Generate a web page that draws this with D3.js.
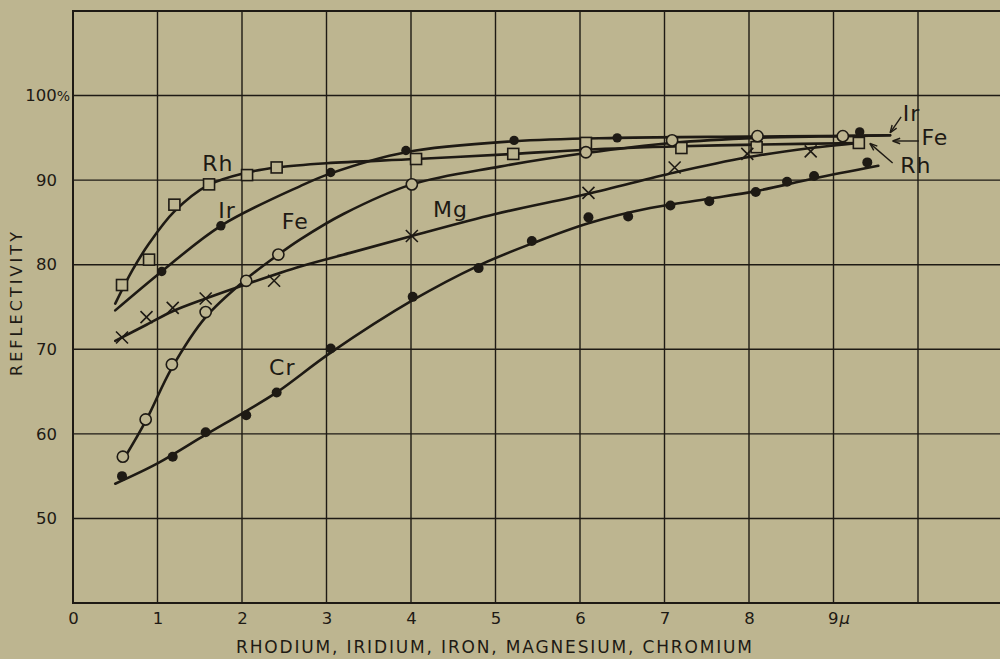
<!DOCTYPE html>
<html><head><meta charset="utf-8">
<script src="https://cdn.jsdelivr.net/npm/d3@7"></script>
<style>
html,body{margin:0;padding:0;background:#bdb590;}
svg{display:block;}
text{font-family:"DejaVu Sans",sans-serif;fill:#1e1a14;}
</style></head><body>
<svg id="chart" width="1000" height="659"></svg>
<script>
// ---------- data (x in μ, y in % reflectivity) ----------
const xTicks = [0,1,2,3,4,5,6,7,8,9];
const yTicks = [50,60,70,80,90,100];
const xGrid = [1,2,3,4,5,6,7,8,9,10];
const yGrid = [50,60,70,80,90,100];

// measured points
const rhPoints = [[0.58,77.6],[0.9,80.6],[1.2,87.1],[1.61,89.5],[2.06,90.6],[2.41,91.5],[4.06,92.5],[5.21,93.1],[6.07,94.4],[7.2,93.8],[8.09,93.9],[9.3,94.4]];
const irPoints = [[1.05,79.2],[1.75,84.6],[3.05,90.9],[3.94,93.5],[5.22,94.7],[6.44,95.0],[9.31,95.7]];
const fePoints = [[0.59,57.3],[0.86,61.7],[1.17,68.2],[1.57,74.4],[2.05,78.1],[2.43,81.2],[4.01,89.5],[6.07,93.3],[7.09,94.7],[8.1,95.2],[9.11,95.2]];
const mgPoints = [[0.58,71.4],[0.87,73.8],[1.18,74.9],[1.57,76.0],[2.38,78.1],[4.01,83.4],[6.1,88.5],[7.12,91.5],[7.98,93.1],[8.73,93.4]];
const crPoints = [[0.58,55.0],[1.18,57.3],[1.57,60.2],[2.05,62.2],[2.41,64.9],[3.05,70.1],[4.02,76.2],[4.8,79.6],[5.43,82.8],[6.1,85.6],[6.57,85.7],[7.07,87.0],[7.53,87.5],[8.08,88.6],[8.45,89.8],[8.77,90.5],[9.4,92.1]];

// smooth curves drawn through the points
const rhCurve = [[0.5,75.4],[0.7,79.3],[0.9,82.5],[1.2,86.3],[1.6,89.4],[2.06,90.9],[2.41,91.5],[3.0,92.0],[4.06,92.5],[5.21,93.1],[6.07,93.6],[7.2,94.0],[8.09,94.2],[9.3,94.4]];
const irCurve = [[0.5,74.6],[1.05,79.2],[1.75,84.6],[2.69,89.3],[3.05,90.8],[3.94,93.3],[5.22,94.6],[6.44,95.0],[8.0,95.15],[9.3,95.25],[9.67,95.3]];
const feCurve = [[0.6,57.0],[0.86,61.5],[1.17,67.8],[1.57,73.8],[2.05,78.3],[2.43,81.2],[2.69,83.0],[3.2,86.0],[4.01,89.5],[5.05,91.6],[6.07,93.2],[7.09,94.4],[8.1,95.0],[9.1,95.2],[9.67,95.3]];
const mgCurve = [[0.5,71.0],[0.87,72.9],[1.18,74.5],[1.57,76.0],[2.05,77.7],[2.69,79.8],[3.28,81.4],[4.01,83.4],[5.0,86.0],[6.1,88.4],[7.12,90.9],[7.98,92.7],[8.73,93.8],[9.3,94.4]];
const crCurve = [[0.5,54.1],[1.0,56.5],[1.57,59.9],[2.05,62.7],[2.41,64.9],[3.05,69.6],[4.02,75.8],[4.8,79.9],[5.43,82.5],[6.1,84.9],[6.83,86.7],[7.53,87.8],[8.08,88.7],[8.77,90.2],[9.53,91.7]];

// curve labels [text, x, y]
const curveLabels = [["Rh",1.53,91.1],["Ir",1.72,85.5],["Fe",2.47,84.2],["Mg",4.26,85.6],["Cr",2.32,67.0],
                     ["Ir",9.82,97.0],["Fe",10.04,94.2],["Rh",9.79,90.85]];
// pointer arrows [x1,y1,x2,y2] (arrowhead at x2,y2)
const pointers = [[9.80,97.47,9.67,95.6],[10.01,94.63,9.70,94.63],[9.70,92.03,9.43,94.35]];

const xTitle = "RHODIUM, IRIDIUM, IRON, MAGNESIUM, CHROMIUM";
const yTitle = "REFLECTIVITY";

// ---------- drawing ----------
const ink = "#1e1a14", bg = "#bdb590";
const svg = d3.select("#chart");
svg.append("rect").attr("width",1000).attr("height",659).attr("fill",bg);

const x = d3.scaleLinear().domain([0,11]).range([73, 1002.5]);
const y = d3.scaleLinear().domain([40,110]).range([603, 11]);

// grid
const g = svg.append("g");
g.selectAll(".vg").data(xGrid).join("line")
  .attr("x1",d=>x(d)).attr("x2",d=>x(d)).attr("y1",y(40)).attr("y2",y(110))
  .attr("stroke",ink).attr("stroke-width",1.4);
g.selectAll(".hg").data(yGrid).join("line")
  .attr("x1",x(0)).attr("x2",1000).attr("y1",d=>y(d)).attr("y2",d=>y(d))
  .attr("stroke",ink).attr("stroke-width",1.4);
// frame
g.append("line").attr("x1",x(0)).attr("x2",x(0)).attr("y1",y(40)+1).attr("y2",y(110)-1).attr("stroke",ink).attr("stroke-width",2);
g.append("line").attr("x1",x(0)).attr("x2",1000).attr("y1",y(110)).attr("y2",y(110)).attr("stroke",ink).attr("stroke-width",2);
g.append("line").attr("x1",x(0)).attr("x2",1000).attr("y1",y(40)).attr("y2",y(40)).attr("stroke",ink).attr("stroke-width",2);

// axes
const xAxis = svg.append("g").attr("transform",`translate(0,${y(40)})`)
  .call(d3.axisBottom(x).tickValues(xTicks).tickSize(0).tickPadding(9).tickFormat(d3.format("d")));
xAxis.select(".domain").remove();
xAxis.selectAll("text").attr("font-size",16.5).attr("font-family","DejaVu Sans").attr("fill",ink);
xAxis.selectAll(".tick").filter(d=>d===9).select("text")
  .attr("text-anchor","start").attr("x",-6)
  .append("tspan").attr("font-style","italic").attr("dx",1).text("μ");

const yAxis = svg.append("g").attr("transform",`translate(${x(0)},0)`)
  .call(d3.axisLeft(y).tickValues(yTicks).tickSize(0).tickPadding(16).tickFormat(d3.format("d")));
yAxis.select(".domain").remove();
yAxis.selectAll("text").attr("font-size",16.5).attr("font-family","DejaVu Sans").attr("fill",ink);
yAxis.selectAll(".tick").filter(d=>d===100).select("text")
  .attr("x",-3).append("tspan").attr("font-size",14).text("%");

// curves
const line = d3.line().x(d=>x(d[0])).y(d=>y(d[1])).curve(d3.curveCatmullRom.alpha(0.5));
const curves = [rhCurve, irCurve, feCurve, mgCurve, crCurve];
svg.append("g").selectAll("path").data(curves).join("path")
  .attr("d",line).attr("fill","none").attr("stroke",ink).attr("stroke-width",2.6)
  .attr("stroke-linecap","round");

// markers
const m = svg.append("g").attr("stroke",ink);
m.selectAll(".sq").data(rhPoints).join("rect")
  .attr("x",d=>x(d[0])-5.5).attr("y",d=>y(d[1])-5.5).attr("width",11).attr("height",11)
  .attr("fill",bg).attr("stroke-width",1.6);
m.selectAll(".ci").data(fePoints).join("circle")
  .attr("cx",d=>x(d[0])).attr("cy",d=>y(d[1])).attr("r",5.6)
  .attr("fill",bg).attr("stroke-width",1.6);
m.selectAll(".ir").data(irPoints).join("circle")
  .attr("cx",d=>x(d[0])).attr("cy",d=>y(d[1])).attr("r",4.7).attr("fill",ink).attr("stroke","none");
m.selectAll(".cr").data(crPoints).join("circle")
  .attr("cx",d=>x(d[0])).attr("cy",d=>y(d[1])).attr("r",5).attr("fill",ink).attr("stroke","none");
m.selectAll(".x").data(mgPoints).join("path")
  .attr("d",d=>{const cx=x(d[0]),cy=y(d[1]),s=6;return `M${cx-s},${cy-s}L${cx+s},${cy+s}M${cx-s},${cy+s}L${cx+s},${cy-s}`;})
  .attr("fill","none").attr("stroke-width",1.6);

// pointer arrows
const pa = svg.append("g");
pointers.forEach(p=>{
  const x1=x(p[0]),y1=y(p[1]),x2=x(p[2]),y2=y(p[3]);
  pa.append("line").attr("x1",x1).attr("y1",y1).attr("x2",x2).attr("y2",y2)
    .attr("stroke",ink).attr("stroke-width",1.4);
  const ang=Math.atan2(y2-y1,x2-x1), L=8, w=0.35;
  pa.append("path")
    .attr("d",`M${x2},${y2}L${x2-L*Math.cos(ang-w)},${y2-L*Math.sin(ang-w)}M${x2},${y2}L${x2-L*Math.cos(ang+w)},${y2-L*Math.sin(ang+w)}`)
    .attr("stroke",ink).attr("stroke-width",1.4).attr("fill","none");
});

// curve labels
svg.append("g").selectAll("text").data(curveLabels).join("text")
  .attr("x",d=>x(d[1])).attr("y",d=>y(d[2]))
  .attr("font-size",22).attr("letter-spacing",1).text(d=>d[0]);

// axis titles
svg.append("text").attr("x",494).attr("y",653).attr("text-anchor","middle")
  .attr("font-size",17).attr("textLength",516).attr("lengthAdjust","spacing").text(xTitle);
svg.append("text").attr("transform","translate(22,304) rotate(-90)").attr("text-anchor","middle")
  .attr("font-size",16).attr("textLength",144).attr("lengthAdjust","spacing").text(yTitle);
</script>
</body></html>
